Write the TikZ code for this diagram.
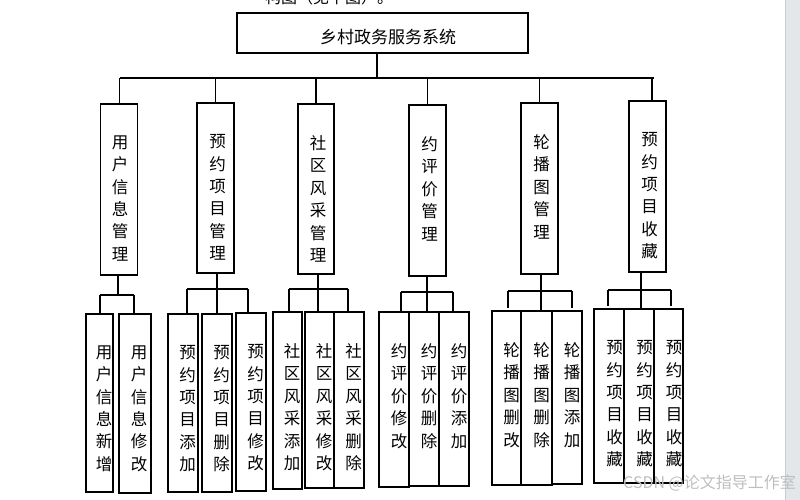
\documentclass[tikz,border=0pt]{standalone}
\usepackage{fontspec}
\newfontfamily\cjk{Noto Sans CJK SC}
\tikzset{
  box/.style={draw=black, line width=1.1pt, inner sep=0pt},
  vt/.style={font=\cjk\fontsize{16.5}{22.4}\selectfont, align=center, inner sep=0pt, anchor=north},
  conn/.style={draw=black, line width=1.1pt}
}
\newcommand\mkbox[7]{%
  \node[box, minimum width=#4pt, minimum height=#5pt] (#1) at (#2,#3) {};
  \node[vt] (#1t) at ([xshift=#6pt,yshift=-32pt]#1.north) {#7};
}
\begin{document}
\begin{tikzpicture}[x=1pt,y=-1pt]
\useasboundingbox (0,0) rectangle (800,500);
% screen strip on the right
\fill[fill={rgb,255:red,227;green,231;blue,234}] (785,0) rectangle (800,500);
\draw[draw={rgb,255:red,200;green,204;blue,208}, line width=0.8pt] (785.4,0) -- (785.4,500);
% partially visible caption at top
\node[font=\cjk\fontsize{16}{18}\selectfont, anchor=base west, inner sep=0pt] (cap) at (265,4) {构图（见下图）。};
% root
\node[box, minimum width=291pt, minimum height=40pt] (top) at (382.5,33) {};
\node[font=\cjk\fontsize{17}{20}\selectfont, inner sep=0pt] (topt) at (388,37) {乡村政务服务系统};
% level 1
\mkbox{b1}{119.2}{189.5}{37}{171}{1}{用\\户\\信\\息\\管\\理}
\mkbox{b2}{215.5}{188}{37}{170}{2}{预\\约\\项\\目\\管\\理}
\mkbox{b3}{316}{189}{36}{170}{2}{社\\区\\风\\采\\管\\理}
\mkbox{b4}{427.5}{190.5}{37}{171}{2}{约\\评\\价\\管\\理}
\mkbox{b5}{539.5}{188.5}{37}{171}{2}{轮\\播\\图\\管\\理}
\mkbox{b6}{647.5}{186.5}{37}{171}{2}{预\\约\\项\\目\\收\\藏}
% level 2
\mkbox{c1a}{99.5}{403}{27}{178}{4.5}{用\\户\\信\\息\\新\\增}
\mkbox{c1b}{135}{403.5}{32}{179}{4}{用\\户\\信\\息\\修\\改}
\mkbox{c2a}{183}{403}{30}{178}{4.5}{预\\约\\项\\目\\添\\加}
\mkbox{c2b}{217}{403}{30}{178}{4.5}{预\\约\\项\\目\\删\\除}
\mkbox{c2c}{251}{402}{30}{178}{4.5}{预\\约\\项\\目\\修\\改}
\mkbox{c3a}{287.5}{400.5}{29}{177}{4.5}{社\\区\\风\\采\\添\\加}
\mkbox{c3b}{319.5}{400}{29}{176}{4.5}{社\\区\\风\\采\\修\\改}
\mkbox{c3c}{349}{400}{30}{176}{4.5}{社\\区\\风\\采\\删\\除}
\mkbox{c4a}{394}{399.5}{30}{175}{5}{约\\评\\价\\修\\改}
\mkbox{c4b}{424}{399}{30}{174}{5}{约\\评\\价\\删\\除}
\mkbox{c4c}{454}{399}{30}{174}{5}{约\\评\\价\\添\\加}
\mkbox{c5a}{506.5}{398}{29}{174}{5}{轮\\播\\图\\删\\改}
\mkbox{c5b}{536.5}{398}{31}{174}{5}{轮\\播\\图\\删\\除}
\mkbox{c5c}{567}{397.5}{30}{173}{5}{轮\\播\\图\\添\\加}
\mkbox{c6a}{609}{396}{30}{174}{5.5}{预\\约\\项\\目\\收\\藏}
\mkbox{c6b}{639}{396}{30}{174}{5.5}{预\\约\\项\\目\\收\\藏}
\mkbox{c6c}{668.5}{396}{29}{174}{5.5}{预\\约\\项\\目\\收\\藏}
% level 1 connectors
\coordinate (j0) at (377,78);
\coordinate (jL) at (120,78);
\coordinate (jR) at (654,78);
\coordinate (d6) at (652,78);
\draw[conn] (top.south -| j0) -- (j0);
\draw[conn] (jL) -- (jR);
\draw[conn] (b1.north) -- (b1.north |- jL);
\draw[conn] (b2.north) -- (b2.north |- jL);
\draw[conn] (b3.north) -- (b3.north |- jL);
\draw[conn] (b4.north) -- (b4.north |- jL);
\draw[conn] (b5.north) -- (b5.north |- jL);
\draw[conn] (b6.north -| d6) -- (d6);
% group 1
\coordinate (g1) at (118,295);
\coordinate (g1L) at (100,295);
\coordinate (g1R) at (134,295);
\draw[conn] (b1.south -| g1) -- (g1);
\draw[conn] (g1L) -- (g1R);
\draw[conn] (g1L) -- (g1L |- c1a.north);
\draw[conn] (g1R) -- (g1R |- c1b.north);
% group 2
\coordinate (g2) at (217,289);
\coordinate (g2L) at (187,289);
\coordinate (g2R) at (248,289);
\draw[conn] (b2.south -| g2) -- (c2b.north -| g2);
\draw[conn] (g2L) -- (g2R);
\draw[conn] (g2L) -- (g2L |- c2a.north);
\draw[conn] (g2R) -- (g2R |- c2c.north);
% group 3
\coordinate (g3) at (318,289);
\coordinate (g3L) at (289,289);
\coordinate (g3R) at (348,289);
\draw[conn] (b3.south -| g3) -- (c3b.north -| g3);
\draw[conn] (g3L) -- (g3R);
\draw[conn] (g3L) -- (g3L |- c3a.north);
\draw[conn] (g3R) -- (g3R |- c3c.north);
% group 4
\coordinate (g4) at (427,292);
\coordinate (g4L) at (401,292);
\coordinate (g4R) at (453,292);
\draw[conn] (b4.south -| g4) -- (c4b.north -| g4);
\draw[conn] (g4L) -- (g4R);
\draw[conn] (g4L) -- (g4L |- c4a.north);
\draw[conn] (g4R) -- (g4R |- c4c.north);
% group 5
\coordinate (g5) at (541,291);
\coordinate (g5L) at (508,291);
\coordinate (g5R) at (572,291);
\draw[conn] (b5.south -| g5) -- (c5b.north -| g5);
\draw[conn] (g5L) -- (g5R);
\draw[conn] (g5L) -- ([yshift=2pt]g5L |- c5a.north);
\draw[conn] (g5R) -- ([yshift=2pt]g5R |- c5c.north);
% group 6
\coordinate (g6) at (641,290);
\coordinate (g6L) at (608,290);
\coordinate (g6R) at (671,290);
\draw[conn] (b6.south -| g6) -- (c6b.north -| g6);
\draw[conn] (g6L) -- (g6R);
\draw[conn] (g6L) -- ([yshift=2pt]g6L |- c6a.north);
\draw[conn] (g6R) -- ([yshift=2pt]g6R |- c6c.north);
% watermark
\node[font=\cjk\fontsize{16}{18}\selectfont, text={rgb,255:red,190;green,190;blue,190}, anchor=west, inner sep=0pt] (wm) at (623,483) {CSDN @论文指导工作室};
\end{tikzpicture}
\end{document}
